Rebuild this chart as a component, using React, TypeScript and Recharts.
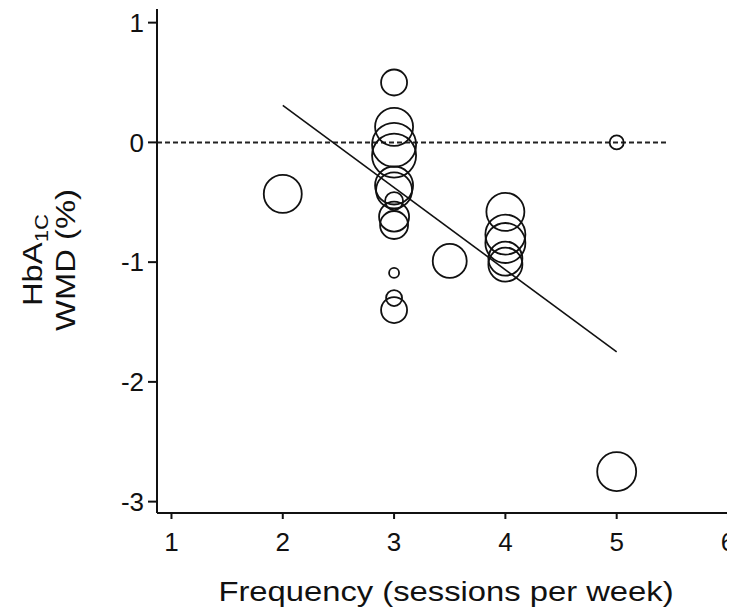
import React from 'react';
import { ScatterChart, Scatter, XAxis, YAxis, ReferenceLine } from 'recharts';

// Per-study training frequency, HbA1c weighted mean difference and meta-analysis weight
const studyFrequency = [2, 3, 3, 3, 3, 3, 3, 3, 3, 3, 3, 3, 3, 3.5, 4, 4, 4, 4, 4, 5, 5];
const studyWmd = [-0.43, 0.5, 0.13, -0.02, -0.11, -0.36, -0.4, -0.49, -0.62, -0.69, -1.09, -1.3, -1.4, -0.99, -0.58, -0.77, -0.84, -0.97, -1.02, 0, -2.75];
const studyWeight = [361, 169, 361, 484, 484, 361, 324, 81, 225, 196, 25, 64, 169, 289, 361, 400, 400, 289, 289, 49, 380];

// Meta-regression fit line
const fitFrequency = [2, 5];
const fitWmd = [0.31, -1.75];

// Null-effect reference line extent
const nullLineEnd = 5.46;

const xTicks = [1, 2, 3, 4, 5, 6];
const yTicks = [-3, -2, -1, 0, 1];

const xDomain: [number, number] = [0.87, 6.063];
const yDomain: [number, number] = [-3.095, 1.114];

const studies = studyFrequency.map((f, i) => ({ frequency: f, wmd: studyWmd[i], weight: studyWeight[i] }));

const FONT = '"Liberation Sans", Arial, Helvetica, sans-serif';
const INK = '#111';

function Bubble(props: any) {
  const { cx, cy, payload } = props;
  if (cx == null || cy == null) return null;
  const r = Math.sqrt(payload.weight);
  return <circle cx={cx} cy={cy} r={r} fill="none" stroke={INK} strokeWidth={1.8} />;
}

const XTitle = () => (
  <text
    transform="translate(438,593) scale(1.17,1)"
    textAnchor="middle"
    fontFamily={FONT}
    fontSize={28}
    fill={INK}
  >
    Frequency (sessions per week)
  </text>
);

const YTitle = () => (
  <g fontFamily={FONT} fill={INK}>
    <text transform="translate(34,252) rotate(-90) scale(1.17,1)" textAnchor="middle" fontSize={28}>
      HbA
      <tspan fontSize={19} dy={6}>1C</tspan>
    </text>
    <text transform="translate(67,252) rotate(-90) scale(1.17,1)" textAnchor="middle" fontSize={28}>
      WMD (%)
    </text>
  </g>
);

export default function App() {
  return (
    <ScatterChart width={727} height={599} margin={{ top: 1, right: 0, bottom: 0, left: 0 }}>
      <XAxis
        type="number"
        dataKey="frequency"
        domain={xDomain}
        allowDataOverflow
        ticks={xTicks}
        height={94}
        tickSize={6}
        tickMargin={14}
        axisLine={{ stroke: INK, strokeWidth: 2 }}
        tickLine={{ stroke: INK, strokeWidth: 2 }}
        tick={{ fill: INK, fontSize: 26, fontFamily: FONT }}
        label={{ content: () => <XTitle /> }}
      />
      <YAxis
        type="number"
        dataKey="wmd"
        domain={yDomain}
        allowDataOverflow
        ticks={yTicks}
        width={149}
        tickSize={9}
        tickMargin={4}
        axisLine={{ stroke: INK, strokeWidth: 2 }}
        tickLine={{ stroke: INK, strokeWidth: 2 }}
        tick={{ fill: INK, fontSize: 26, fontFamily: FONT }}
        label={{ content: () => <YTitle /> }}
      />
      <ReferenceLine
        segment={[{ x: xDomain[0], y: 0 }, { x: nullLineEnd, y: 0 }]}
        stroke="#222"
        strokeWidth={2}
        strokeDasharray="5 3"
      />
      <ReferenceLine
        segment={[{ x: fitFrequency[0], y: fitWmd[0] }, { x: fitFrequency[1], y: fitWmd[1] }]}
        stroke={INK}
        strokeWidth={1.6}
      />
      <Scatter data={studies} shape={<Bubble />} isAnimationActive={false} />
    </ScatterChart>
  );
}
